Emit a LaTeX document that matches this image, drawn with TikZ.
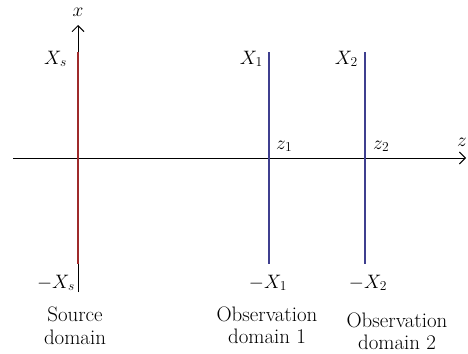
\RequirePackage{fix-cm}
\documentclass[tikz,border=0pt]{standalone}
\usepackage{fontspec}
\setmainfont{Latin Modern Roman}
\usetikzlibrary{arrows.meta,positioning}
\definecolor{srcred}{HTML}{9E2A2B}
\definecolor{obsblue}{HTML}{3F3F8F}
\tikzset{
  axis/.style={-{Straight Barb[length=6bp,width=12bp]}, line width=0.9bp, color=black},
  srcline/.style={line width=2bp, color=srcred},
  obsline/.style={line width=2bp, color=obsblue},
  lab/.style={inner sep=1bp, font=\fontsize{19.5}{22}\selectfont},
  domcap/.style={align=center, anchor=north, inner sep=0pt, font=\fontsize{21}{22.5}\selectfont},
}
\begin{document}
\begin{tikzpicture}[x=1bp,y=1bp]
  \useasboundingbox (0,0) rectangle (468,353);
  % axes
  \coordinate (zs) at (13,195);
  \coordinate (ze) at (466,195);
  \coordinate (xs) at (78,61);
  \coordinate (xe) at (78,328);
  \draw[axis] (zs) -- (ze);
  \draw[axis] (xs) -- (xe);
  \node[lab, above=7bp of xe] (xlab) {$x$};
  \node[lab, above=10bp of ze, xshift=-4bp] (zlab) {$z$};
  % domains
  \foreach \n/\x/\s in {s/78/srcline, 1/269/obsline, 2/365/obsline} {
    \coordinate (top\n) at (\x,301);
    \coordinate (bot\n) at (\x,89);
    \coordinate (cross\n) at (\x,195);
    \draw[\s] (top\n) -- (bot\n);
  }
  % end labels
  \node[lab, anchor=base east] (Xs) at ([shift={(-10,-12)}]tops) {$X_s$};
  \node[lab, anchor=base east] (X1) at ([shift={(-5,-12)}]top1) {$X_1$};
  \node[lab, anchor=base east] (X2) at ([shift={(-6,-12)}]top2) {$X_2$};
  \node[lab, anchor=base east] (mXs) at ([shift={(-2,-24)}]bots) {$-X_s$};
  \node[lab, anchor=base] (mX1) at ([shift={(-1,-24)}]bot1) {$-X_1$};
  \node[lab, anchor=base] (mX2) at ([shift={(3,-24)}]bot2) {$-X_2$};
  \node[lab, anchor=base west] (z1) at ([shift={(6,9)}]cross1) {$z_1$};
  \node[lab, anchor=base west] (z2) at ([shift={(7,9)}]cross2) {$z_2$};
  % captions
  \node[domcap] (capS) at ([shift={(-3,-43)}]bots) {Source\\domain};
  \node[domcap] (cap1) at ([shift={(-2,-42.5)}]bot1) {Observation\\domain 1};
  \node[domcap] (cap2) at ([shift={(32,-48.5)}]bot2) {Observation\\domain 2};
\end{tikzpicture}
\end{document}
